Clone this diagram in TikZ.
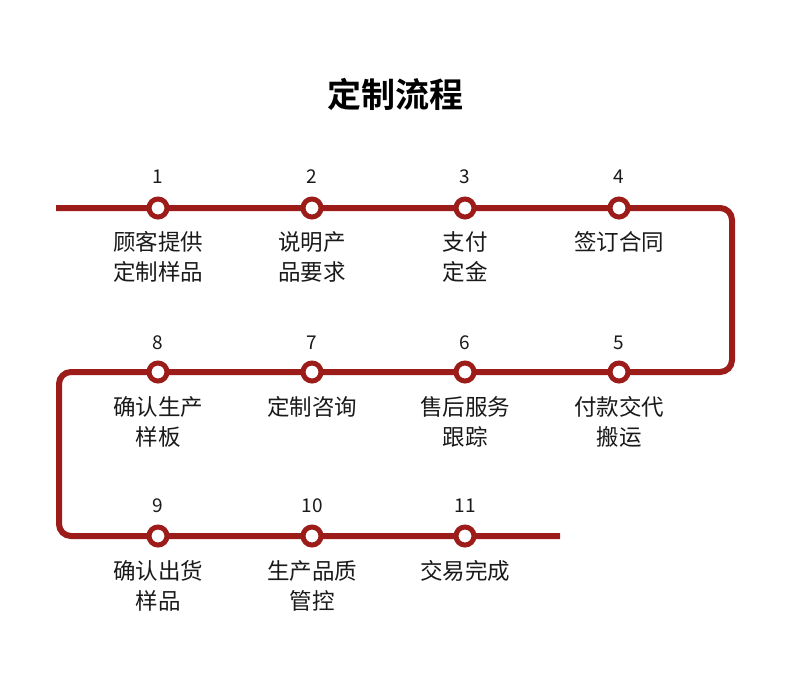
\documentclass[tikz,border=0pt]{standalone}
\usepackage{fontspec}
\setmainfont{Noto Sans CJK SC}
\newfontfamily\cjkbold{Noto Sans CJK SC Bold}
\definecolor{trackred}{HTML}{9B1C18}
\definecolor{ink}{HTML}{1A1A1A}
\begin{document}
\begin{tikzpicture}[x=1pt,y=-1pt,
  track/.style={draw=trackred,line width=6pt,rounded corners=12pt},
  stop/.style={circle,draw=trackred,fill=white,line width=5pt,minimum size=18pt,inner sep=0pt},
  num/.style={anchor=base,inner sep=0pt,text=ink,font=\fontsize{19}{19}\selectfont},
  lbl/.style={anchor=base,inner sep=0pt,text=ink,align=center,font=\fontsize{22.5}{30.5}\selectfont},
  ttl/.style={anchor=base,inner sep=0pt,text=black,font=\cjkbold\fontsize{34}{34}\selectfont}]
\useasboundingbox[fill=white] (0,0) rectangle (790,686);
\node[ttl] (title) at (395,107) {定制流程};
% track corners
\coordinate (start) at (56,208);
\coordinate (c1) at (732,208);
\coordinate (c2) at (732,372);
\coordinate (c3) at (59,372);
\coordinate (c4) at (59,536);
\coordinate (end) at (560,536);
\draw[track] (start) -- (c1) -- (c2) -- (c3) -- (c4) -- (end);
% stops
\foreach \n/\x/\y/\ny in {1/158/208/183.5,2/312/208/183.5,3/465/208/183.5,4/619/208/183.5,5/619/372/349,6/465/372/349,7/312/372/349,8/158/372/349,9/158/536/512.5,10/312/536/512.5,11/465/536/512.5}{
  \node[stop] (s\n) at (\x,\y) {};
  \node[num] (n\n) at (\x,\ny) {\n};
}
\node[lbl] (l1) at (158,280.5) {顾客提供\\定制样品};
\node[lbl] (l2) at (312,280.5) {说明产\\品要求};
\node[lbl] (l3) at (465,280.5) {支付\\定金};
\node[lbl] (l4) at (619,250) {签订合同};
\node[lbl] (l5) at (619,445.5) {付款交代\\搬运};
\node[lbl] (l6) at (465,445.5) {售后服务\\跟踪};
\node[lbl] (l7) at (312,415) {定制咨询};
\node[lbl] (l8) at (158,445.5) {确认生产\\样板};
\node[lbl] (l9) at (158,609.5) {确认出货\\样品};
\node[lbl] (l10) at (312,609.5) {生产品质\\管控};
\node[lbl] (l11) at (465,579) {交易完成};
\end{tikzpicture}
\end{document}
